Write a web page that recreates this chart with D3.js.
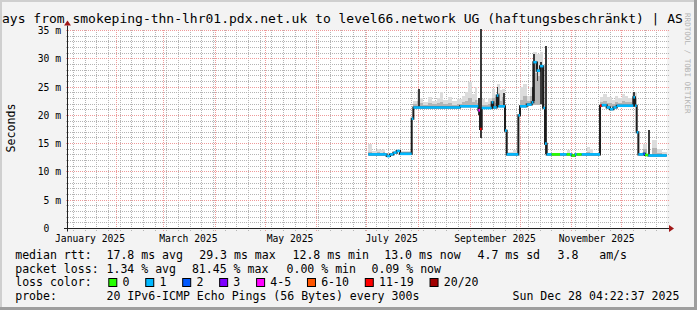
<!DOCTYPE html>
<html>
<head>
<meta charset="utf-8">
<script src="https://cdn.jsdelivr.net/npm/d3@7"></script>
<style>
  body { margin: 0; background: #f3f3f3; }
  svg { display: block; font-family: "DejaVu Sans Mono", monospace; }
</style>
</head>
<body>
<svg id="chart" width="697" height="310"></svg>
<script>
// ---- data ----
const rangeStart = "2025-01-02 04:22";
const rangeEnd = "2025-12-28 04:22";

// median rtt steps (ms), loss colour index per step
const medDates = ["2025-07-02","2025-07-13","2025-07-15","2025-07-17","2025-07-19","2025-07-21","2025-07-28","2025-07-29",
  "2025-08-26","2025-09-06","2025-09-07","2025-09-08","2025-09-14","2025-09-15","2025-09-17","2025-09-18","2025-09-22",
  "2025-09-23","2025-09-30","2025-10-01","2025-10-05","2025-10-08","2025-10-09","2025-10-11","2025-10-13","2025-10-15",
  "2025-10-16","2025-10-17","2025-10-20","2025-10-25","2025-10-29","2025-10-31","2025-11-01","2025-11-03","2025-11-04",
  "2025-11-07","2025-11-18","2025-11-19","2025-11-22","2025-11-24","2025-11-26","2025-11-28","2025-12-08","2025-12-09",
  "2025-12-10","2025-12-11","2025-12-14","2025-12-15","2025-12-17"];
const medMs = [13.1,12.8,13.1,13.4,13.7,13.2,19.4,21.4,
  21.6,20.9,17.6,21.3,22.3,21.4,23.5,21.6,17.3,
  13.1,20.0,21.6,21.9,22.3,29.4,27.9,28.7,21.3,
  15.0,13.1,13.1,13.1,13.1,13.1,12.9,13.1,13.1,
  13.1,21.7,21.8,21.4,21.1,21.4,21.7,23.2,21.7,
  17.0,13.1,13.2,13.0,12.9];
const medLoss = [1,1,1,1,1,1,1,1,
  1,4,6,1,1,1,1,1,1,
  1,1,1,1,1,1,1,1,1,
  1,1,0,1,0,1,0,1,0,
  1,6,1,1,1,1,1,1,1,
  1,1,2,0,1];
const dataEnd = "2025-12-28";

// smoke (spread of the 20 pings), ms
const smokeDates = ["2025-07-02","2025-07-04","2025-07-07","2025-07-09","2025-07-11","2025-07-12","2025-07-21","2025-07-28",
  "2025-07-29","2025-07-31","2025-08-02","2025-08-04","2025-08-07","2025-08-09","2025-08-12","2025-08-14","2025-08-16",
  "2025-08-19","2025-08-21","2025-08-24","2025-08-27","2025-08-29","2025-08-31","2025-09-02","2025-09-04","2025-09-05",
  "2025-09-06","2025-09-08","2025-09-10","2025-09-12","2025-09-14","2025-09-16","2025-09-17","2025-09-19","2025-09-20",
  "2025-09-22","2025-09-23","2025-09-27","2025-09-30","2025-10-01","2025-10-03","2025-10-05","2025-10-07","2025-10-09",
  "2025-10-11","2025-10-13","2025-10-15","2025-10-29","2025-10-31","2025-11-10","2025-11-12","2025-11-14","2025-11-18",
  "2025-11-20","2025-11-22","2025-11-25","2025-11-27","2025-11-29","2025-12-01","2025-12-03","2025-12-05","2025-12-07",
  "2025-12-10","2025-12-14","2025-12-16","2025-12-19","2025-12-22","2025-12-25"];
const smokeLo = [13.1,13.1,13.1,13.1,13.1,13.1,13.2,0,
  21.4,21.4,21.4,21.4,21.4,21.4,21.4,21.4,21.4,
  21.4,21.4,21.4,21.6,21.6,21.6,21.6,21.6,21.6,
  0,21.3,21.3,21.3,21.4,21.4,21.6,21.6,21.6,
  0,13.1,13.1,0,21.6,21.6,21.9,22.0,21.8,
  21.8,21.8,0,13.1,0,13.1,13.1,0,21.7,
  21.7,21.4,21.2,21.4,21.7,21.7,21.7,21.7,21.7,
  0,13.1,0,12.9,12.9,12.9];
const smokeMid = [13.6,0,13.5,0,13.5,0,13.6,0,
  22.0,22.6,22.2,21.9,22.2,22.0,22.2,22.4,22.0,
  22.1,21.9,22.0,22.3,22.6,23.0,22.4,22.8,22.2,
  0,21.9,21.8,22.0,23.0,22.2,24.0,22.6,23.2,
  0,0,13.4,0,22.8,23.4,22.6,23.5,27.5,
  27.0,27.5,0,0,0,13.6,0,0,22.4,
  22.6,22.2,22.0,22.4,22.2,22.5,22.3,22.4,23.0,
  0,14.0,0,14.2,13.4,0];
const smokeHi = [15.0,13.7,14.1,13.8,14.1,13.4,13.7,0,
  22.6,24.4,23.0,22.4,23.2,22.6,23.0,24.1,22.8,
  23.2,22.6,22.9,23.4,24.1,25.9,23.8,25.0,22.8,
  0,22.9,22.3,23.0,24.7,23.2,25.6,24.4,24.7,
  0,13.5,13.8,0,25.0,25.6,23.5,25.0,31.2,
  30.9,31.2,0,13.8,0,14.4,14.0,0,23.2,
  23.8,23.3,22.8,23.5,23.0,23.8,23.4,23.0,24.1,
  0,15.0,0,15.6,14.0,13.5];

// single-day dense columns (dark smoke)
const darkDates = ["2025-08-01","2025-09-06","2025-09-07","2025-09-17","2025-09-21","2025-10-08","2025-10-09",
  "2025-10-11","2025-10-13","2025-10-14","2025-10-16","2025-12-08","2025-12-17"];
const darkLo = [21.4,20.0,16.0,21.6,21.6,22.3,22.6,26.0,22.0,21.3,13.1,21.7,13.0];
const darkHi = [24.7,23.0,35.3,25.0,24.0,25.0,30.9,29.4,29.5,28.7,32.3,24.1,17.5];

const yTicks = [0, 5, 10, 15, 20, 25, 30, 35];
const lossLabels = ["0","1","2","3","4-5","6-10","11-19","20/20"];
const lossColors = ["#26ff00","#00b8ff","#0059ff","#7e00ff","#ff00ff","#ff5500","#ff0000","#a10000"];

const titleText = "ays from smokeping-thn-lhr01.pdx.net.uk to level66.network UG (haftungsbeschränkt) | AS";
const rttStats = ["17.8 ms avg", "29.3 ms max", "12.8 ms min", "13.0 ms now", "4.7 ms sd", "3.8", "am/s"];
const lossStats = ["1.34 % avg", "81.45 % max", "0.00 % min", "0.09 % now"];
const probeText = "20 IPv6-ICMP Echo Pings (56 Bytes) every 300s";
const stampText = "Sun Dec 28 04:22:37 2025";

// ---- drawing ----
const parseDay = d3.timeParse("%Y-%m-%d");
const parseMin = d3.timeParse("%Y-%m-%d %H:%M");
const t0 = parseMin(rangeStart), t1 = parseMin(rangeEnd);

const plotLeft = 67, plotRight = 667, plotBottom = 228.5, plotTop = 30.5;
const svg = d3.select("#chart");

const x = d3.scaleTime().domain([t0, t1]).range([plotLeft, plotRight]);
const y = d3.scaleLinear().domain([0, 35]).range([plotBottom, plotTop]);

// dotted patterns for the grid
const defs = svg.append("defs");
const dotPattern = (id, w, h, color) => defs.append("pattern")
  .attr("id", id).attr("width", w).attr("height", h).attr("patternUnits", "userSpaceOnUse")
  .append("rect").attr("width", 1).attr("height", 1).attr("fill", color);
dotPattern("hGray", 2, 1, "#b4b4b4");
dotPattern("vGray", 1, 2, "#b4b4b4");
dotPattern("hRed", 2, 1, "#ee9a9a");
dotPattern("vRed", 1, 2, "#ee9a9a");

// frame
svg.append("rect").attr("width", 697).attr("height", 310).attr("fill", "#f3f3f3");
svg.append("path").attr("d", "M0,1H696M1,0V309").attr("stroke", "#cfcfcf").attr("stroke-width", 2);
svg.append("path").attr("d", "M0,308.5H697M695.5,0V310").attr("stroke", "#9e9e9e").attr("stroke-width", 3);

svg.append("rect")
  .attr("x", plotLeft).attr("y", plotTop - 0.5)
  .attr("width", plotRight - plotLeft).attr("height", plotBottom - plotTop + 0.5)
  .attr("fill", "#ffffff");

// grid
const grid = svg.append("g").attr("shape-rendering", "crispEdges");
const minorY = d3.range(1, 36).filter(v => v % 5 !== 0);
const minorX = d3.timeMonday.range(t0, t1);
const majorX = d3.timeMonth.range(t0, t1);

const hRows = (vals, fill) => grid.append("g").selectAll("rect").data(vals).join("rect")
  .attr("x", plotLeft - 2).attr("width", plotRight - plotLeft + 4)
  .attr("y", d => Math.floor(y(d))).attr("height", 1)
  .attr("fill", fill);
const vCols = (dates, fill) => grid.append("g").selectAll("rect").data(dates).join("rect")
  .attr("x", d => Math.floor(x(d))).attr("width", 1)
  .attr("y", 30).attr("height", 201)
  .attr("fill", fill);

hRows(minorY, "url(#hGray)");
vCols(minorX, "url(#vGray)");
hRows(yTicks.slice(1), "url(#hRed)");
vCols(majorX, "url(#vRed)");

// smoke
const nextDay = d => d3.timeDay.offset(d, 1);
const smokeEnds = smokeDates.slice(1).concat([dataEnd]);
const smoke = svg.append("g").attr("shape-rendering", "crispEdges");
smokeDates.forEach((d, i) => {
  if (!smokeHi[i]) return;
  const xa = x(parseDay(d)), xb = x(parseDay(smokeEnds[i]));
  smoke.append("rect")
    .attr("x", xa).attr("width", xb - xa)
    .attr("y", y(smokeHi[i])).attr("height", y(smokeLo[i]) - y(smokeHi[i]))
    .attr("fill", "#dcdcdc");
  if (smokeMid[i]) {
    smoke.append("rect")
      .attr("x", xa).attr("width", xb - xa)
      .attr("y", y(smokeMid[i])).attr("height", y(smokeLo[i]) - y(smokeMid[i]))
      .attr("fill", "#b4b4b4");
  }
});
darkDates.forEach((d, i) => {
  const da = parseDay(d);
  smoke.append("rect")
    .attr("x", x(da)).attr("width", x(nextDay(da)) - x(da))
    .attr("y", y(darkHi[i])).attr("height", y(darkLo[i]) - y(darkHi[i]))
    .attr("fill", "#3a3a3a");
});

// median: black steps, coloured flats
const medPts = medDates.map((d, i) => [parseDay(d), medMs[i]]);
medPts.push([parseDay(dataEnd), medMs[medMs.length - 1]]);
svg.append("path")
  .datum(medPts)
  .attr("fill", "none")
  .attr("stroke", "#1c1c1c")
  .attr("stroke-width", 2)
  .attr("d", d3.line().x(d => x(d[0])).y(d => y(d[1])).curve(d3.curveStepAfter));

svg.append("g").selectAll("line")
  .data(medDates.map((d, i) => i))
  .join("line")
  .attr("x1", i => x(medPts[i][0]))
  .attr("x2", i => x(medPts[i + 1][0]))
  .attr("y1", i => y(medMs[i]))
  .attr("y2", i => y(medMs[i]))
  .attr("stroke", i => lossColors[medLoss[i]])
  .attr("stroke-width", 2.6);

// axes
const axisFont = 9.7;
svg.append("line").attr("x1", plotLeft - 3).attr("x2", plotRight + 3).attr("y1", plotBottom).attr("y2", plotBottom)
  .attr("stroke", "#222");
svg.append("line").attr("x1", plotLeft + 0.5).attr("x2", plotLeft + 0.5).attr("y1", plotBottom + 3).attr("y2", plotTop - 5)
  .attr("stroke", "#222");
svg.append("path").attr("d", `M${plotRight + 2},${plotBottom - 3.5}L${plotRight + 7},${plotBottom}L${plotRight + 2},${plotBottom + 3.5}Z`)
  .attr("fill", "#a01818");
svg.append("path").attr("d", `M${plotLeft - 3},${plotTop - 5}L${plotLeft + 0.5},${plotTop - 10}L${plotLeft + 4},${plotTop - 5}Z`)
  .attr("fill", "#a01818");

svg.append("g").selectAll("text")
  .data(yTicks).join("text")
  .attr("x", d => d === 0 ? 61 - 2 * axisFont * 0.602 : 61)
  .attr("y", d => y(d) + 3.5)
  .attr("text-anchor", "end")
  .attr("font-size", axisFont)
  .attr("fill", "#000")
  .text(d => d === 0 ? "0" : d + " m");

const labelMonths = d3.timeMonth.every(2).range(d3.timeYear.floor(t0), t1);
svg.append("g").selectAll("text")
  .data(labelMonths).join("text")
  .attr("x", d => x(d3.timeDay.offset(d, 15)))
  .attr("y", 241.5)
  .attr("text-anchor", "middle")
  .attr("font-size", axisFont)
  .text(d3.timeFormat("%B %Y"));

svg.append("text")
  .attr("transform", "translate(15,128) rotate(-90)")
  .attr("text-anchor", "middle")
  .attr("font-size", 11.6)
  .text("Seconds");

// title & watermark
svg.append("text").attr("x", 2).attr("y", 23).attr("font-size", 13).text(titleText);
svg.append("text")
  .attr("transform", "translate(685,13) rotate(90)")
  .attr("font-size", 7.6)
  .attr("fill", "#b4b4b4")
  .text("RRDTOOL / TOBI OETIKER");

// legend
const lf = 11.55, cw = lf * 0.602;
const leg = svg.append("g").attr("font-size", lf).attr("fill", "#000");
const row = (yy, items) => items.forEach(([xx, s]) =>
  leg.append("text").attr("x", xx).attr("y", yy).style("white-space", "pre").text(s));

const rttX = [106.5, 199.2, 292.5, 384.2, 477.5, 557.5, 599.2];
row(259, [[15.2, "median rtt:"]].concat(rttStats.map((s, i) => [rttX[i], s])));
const lossX = [106.5, 191.9, 286.5, 371.5];
row(272.7, [[15.2, "packet loss:"]].concat(lossStats.map((s, i) => [lossX[i], s])));
row(286.4, [[15.2, "loss color:"]]);
row(300, [[15.2, "probe:"], [106.5, probeText], [512.5, stampText]]);

let bx = 108.3;
lossLabels.forEach((lab, i) => {
  leg.append("rect")
    .attr("x", bx + 0.5).attr("y", 278.5).attr("width", 8).attr("height", 8)
    .attr("fill", lossColors[i]).attr("stroke", "#000").attr("stroke-width", 1);
  leg.append("text").attr("x", bx + 14.2).attr("y", 286.4).text(lab);
  bx += 15 + lab.length * cw + 15;
});
</script>
</body>
</html>
